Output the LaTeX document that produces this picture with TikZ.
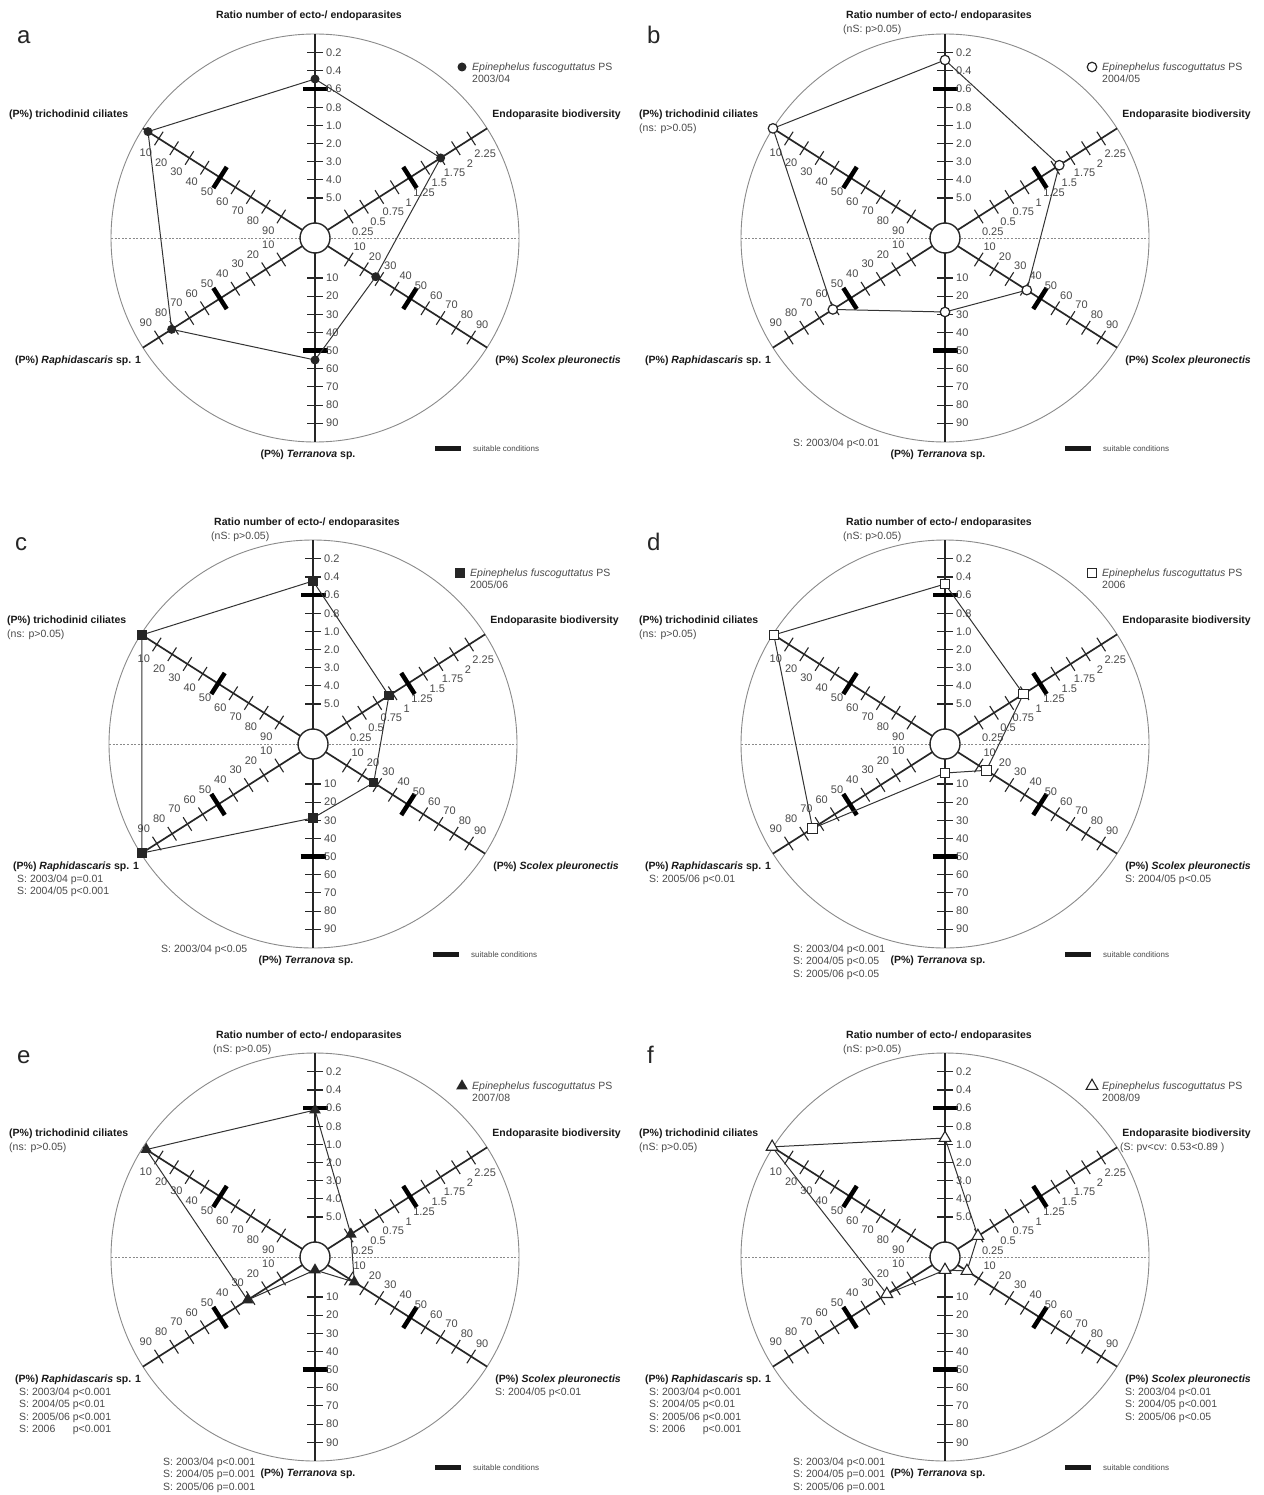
\documentclass[tikz,border=0pt]{standalone}
\usepackage{fontspec}
\setmainfont{Liberation Sans}
\usetikzlibrary{shapes.geometric}
\definecolor{labgray}{HTML}{4A4A4A}
\definecolor{circgray}{HTML}{8A8A8A}
\definecolor{axisblk}{HTML}{262626}
\tikzset{
 circ/.style={draw=circgray, line width=0.9pt},
 midline/.style={draw=circgray, line width=0.8pt, dash pattern=on 2pt off 1.6pt},
 spoke/.style={draw=axisblk, line width=1.7pt},
 tickmark/.style={draw=axisblk, line width=1.1pt},
 barmark/.style={draw=black, line width=4.5pt},
 hub/.style={draw=axisblk, line width=1.4pt, fill=white},
 poly/.style={draw=black!80, line width=1pt, line join=round},
 tlab/.style={font=\fontsize{11}{12}\selectfont, text=labgray, inner sep=0pt},
 axlab/.style={font=\fontsize{10.5}{12}\selectfont\bfseries, text=black!90, inner sep=0pt},
 slab/.style={font=\fontsize{10.5}{12}\selectfont, text=labgray, inner sep=0pt, anchor=base west},
 leglab/.style={font=\fontsize{10.5}{12}\selectfont, text=labgray, inner sep=0pt, anchor=base west},
 tinylab/.style={font=\fontsize{8}{9}\selectfont, text=labgray, inner sep=0pt},
 panelletter/.style={font=\fontsize{24}{26}\selectfont, text=black!85, inner sep=0pt},
 suitbar/.style={fill=black!90, inner sep=0pt, minimum width=26pt, minimum height=5pt},
 mkdot/.style={circle, fill=black!85, inner sep=0pt, minimum size=9pt},
 mkring/.style={circle, draw=black!85, line width=1.2pt, fill=white, inner sep=0pt, minimum size=9.5pt},
 mksq/.style={rectangle, fill=black!85, inner sep=0pt, minimum size=9.5pt},
 mkbox/.style={rectangle, draw=black!85, line width=1.1pt, fill=white, inner sep=0pt, minimum size=9.5pt},
 mktri/.style={regular polygon, regular polygon sides=3, fill=black!85, inner sep=0pt, minimum size=13.5pt},
 mkopentri/.style={regular polygon, regular polygon sides=3, draw=black!85, line width=1.1pt, fill=white, inner sep=0pt, minimum size=13.5pt},
}
% #1 name, #2 centre "x,y", #3 panel letter
\newcommand{\radarbase}[3]{%
\begin{scope}[shift={(#2)}]
 \draw[circ] (0,0) circle[radius=204pt];
 \draw[midline] (-204,0) -- (204,0);
 \draw[spoke] (0,-204) -- (0,204);
 \foreach \a in {-32.5,32.5,147.5,212.5} \draw[spoke] (\a:15) -- (\a:204);
 \foreach \a in {-90,90,-32.5,32.5,147.5,212.5}
  \foreach \k in {0,...,8}
   \draw[tickmark] (\a:{40+\k*18.15}) ++(\a+90:8) -- ++(\a-90:16);
 \foreach \a/\k in {-90/6,90/4,-32.5/4,32.5/4,147.5/4,212.5/4}
  \draw[barmark] (\a:{40+\k*18.15}) ++(\a+90:12.5) -- ++(\a-90:25);
 \draw[hub] (0,0) circle[radius=15pt];
 \foreach \k/\l in {0/5.0,1/4.0,2/3.0,3/2.0,4/1.0,5/0.8,6/0.6,7/0.4,8/0.2}
  \node[tlab, anchor=west] (#1-rl\k) at (11,{-(40+\k*18.15)}) {\l};
 \foreach \k/\l in {0/10,1/20,2/30,3/40,4/50,5/60,6/70,7/80,8/90}
  \node[tlab, anchor=west] (#1-tl\k) at (11,{40+\k*18.15}) {\l};
 \foreach \k/\l in {0/0.25,1/0.5,2/0.75,3/1,4/1.25,5/1.5,6/1.75,7/2,8/2.25}
  \path (-32.5:{40+\k*18.15}) ++(14,15) node[tlab] (#1-el\k) {\l};
 \foreach \k/\l in {0/10,1/20,2/30,3/40,4/50,5/60,6/70,7/80,8/90}
  \path (32.5:{40+\k*18.15}) ++(11,-13) node[tlab] (#1-sl\k) {\l};
 \foreach \k/\l in {0/10,1/20,2/30,3/40,4/50,5/60,6/70,7/80,8/90}
  \path (147.5:{40+\k*18.15}) ++(-13,-15) node[tlab] (#1-pl\k) {\l};
 \foreach \k/\l in {0/90,1/80,2/70,3/60,4/50,5/40,6/30,7/20,8/10}
  \path (212.5:{40+\k*18.15}) ++(-13,14) node[tlab] (#1-cl\k) {\l};
 \node[axlab, anchor=base] (#1-title) at (-6,-219) {Ratio number of ecto-/ endoparasites};
 \node[axlab, anchor=base west] (#1-tri) at (-306,-120.5) {(P\%) trichodinid ciliates};
 \node[axlab, anchor=base east] (#1-endo) at (306,-120.5) {Endoparasite biodiversity};
 \node[axlab, anchor=base west] (#1-rap) at (-300,125.5) {(P\%) \textit{Raphidascaris} sp. 1};
 \node[axlab, anchor=base east] (#1-sco) at (306,125.5) {(P\%) \textit{Scolex pleuronectis}};
 \node[axlab, anchor=base] (#1-ter) at (-7,219.5) {(P\%) \textit{Terranova} sp.};
 \node[panelletter, anchor=base west] (#1-letter) at (-298,-194) {#3};
 \node[suitbar] (#1-sbar) at (133,210) {};
 \node[tinylab, anchor=west] (#1-suit) at (158,210.5) {suitable conditions};
 \node[leglab] (#1-sp) at (157,-167.5) {\textit{Epinephelus fuscoguttatus} PS};
\end{scope}}
% #1 name, #2 centre, #3 ratio, #4 endo, #5 scolex, #6 terranova, #7 raphid, #8 tricho, #9 marker
\newcommand{\radardata}[9]{%
\begin{scope}[shift={(#2)}]
 \coordinate (#1-p1) at (-90:#3);
 \coordinate (#1-p2) at (-32.5:#4);
 \coordinate (#1-p3) at (32.5:#5);
 \coordinate (#1-p4) at (90:#6);
 \coordinate (#1-p5) at (147.5:#7);
 \coordinate (#1-p6) at (212.5:#8);
 \draw[poly] (#1-p1) -- (#1-p2) -- (#1-p3) -- (#1-p4) -- (#1-p5) -- (#1-p6) -- cycle;
 \foreach \j in {1,...,6} \node[#9] (#1-m\j) at (#1-p\j) {};
 \node[#9] (#1-legmk) at (147,-171) {};
\end{scope}}
\begin{document}
\begin{tikzpicture}[x=1pt,y=-1pt]
\useasboundingbox (0,0) rectangle (1263,1495);
\fill[white] (0,0) rectangle (1263,1495);
% ---------- a ----------
\radarbase{a}{315,238}{a}
\radardata{a}{315,238}{159}{149}{72}{122}{170}{198}{mkdot}
\begin{scope}[shift={(315,238)}]
 \node[leglab] (a-yr) at (157,-155.5) {2003/04};
\end{scope}
% ---------- b ----------
\radarbase{b}{945,238}{b}
\radardata{b}{945,238}{178}{135.5}{97}{74}{133}{204}{mkring}
\begin{scope}[shift={(945,238)}]
 \node[leglab] (b-yr) at (157,-155.5) {2004/05};
 \node[slab] (b-tsub) at (-102,-205) {(nS: p>0.05)};
 \node[slab] (b-csub) at (-306,-106.5) {(ns: p>0.05)};
 \node[slab] (b-bot1) at (-152,208.5) {S: 2003/04 p<0.01};
\end{scope}
% ---------- c ----------
\radarbase{c}{313,744}{c}
\radardata{c}{313,744}{163}{90}{72}{74}{203}{203}{mksq}
\begin{scope}[shift={(313,744)}]
 \node[leglab] (c-yr) at (157,-155.5) {2005/06};
 \node[slab] (c-tsub) at (-102,-205) {(nS: p>0.05)};
 \node[slab] (c-csub) at (-306,-106.5) {(ns: p>0.05)};
 \node[slab] (c-r1) at (-296,138.5) {S: 2003/04 p=0.01};
 \node[slab] (c-r2) at (-296,150.8) {S: 2004/05 p<0.001};
 \node[slab] (c-bot1) at (-152,208.5) {S: 2003/04 p<0.05};
\end{scope}
% ---------- d ----------
\radarbase{d}{945,744}{d}
\radardata{d}{945,744}{160}{93}{49}{29}{157}{203}{mkbox}
\begin{scope}[shift={(945,744)}]
 \node[leglab] (d-yr) at (157,-155.5) {2006};
 \node[slab] (d-tsub) at (-102,-205) {(nS: p>0.05)};
 \node[slab] (d-csub) at (-306,-106.5) {(ns: p>0.05)};
 \node[slab] (d-r1) at (-296,138.5) {S: 2005/06 p<0.01};
 \node[slab] (d-s1) at (180,138.5) {S: 2004/05 p<0.05};
 \node[slab] (d-bot1) at (-152,208.5) {S: 2003/04 p<0.001};
 \node[slab] (d-bot2) at (-152,220.8) {S: 2004/05 p<0.05};
 \node[slab] (d-bot3) at (-152,233.1) {S: 2005/06 p<0.05};
\end{scope}
% ---------- e ----------
\radarbase{e}{315,1257}{e}
\radardata{e}{315,1257}{147}{42.5}{46.6}{13}{80}{200}{mktri}
\begin{scope}[shift={(315,1257)}]
 \node[leglab] (e-yr) at (157,-155.5) {2007/08};
 \node[slab] (e-tsub) at (-102,-205) {(nS: p>0.05)};
 \node[slab] (e-csub) at (-306,-106.5) {(ns: p>0.05)};
 \node[slab] (e-r1) at (-296,138.5) {S: 2003/04 p<0.001};
 \node[slab] (e-r2) at (-296,150.8) {S: 2004/05 p<0.01};
 \node[slab] (e-r3) at (-296,163.1) {S: 2005/06 p<0.001};
 \node[slab] (e-r4) at (-296,175.4) {S: 2006\phantom{/04}\ p<0.001};
 \node[slab] (e-s1) at (180,138.5) {S: 2004/05 p<0.01};
 \node[slab] (e-bot1) at (-152,208.5) {S: 2003/04 p<0.001};
 \node[slab] (e-bot2) at (-152,220.8) {S: 2004/05 p=0.001};
 \node[slab] (e-bot3) at (-152,233.1) {S: 2005/06 p=0.001};
\end{scope}
% ---------- f ----------
\radarbase{f}{945,1257}{f}
\radardata{f}{945,1257}{119}{39}{26}{13}{69}{205}{mkopentri}
\begin{scope}[shift={(945,1257)}]
 \node[leglab] (f-yr) at (157,-155.5) {2008/09};
 \node[slab] (f-tsub) at (-102,-205) {(nS: p>0.05)};
 \node[slab] (f-csub) at (-306,-106.5) {(nS: p>0.05)};
 \node[slab] (f-esub) at (175,-106.5) {(S: pv<cv: 0.53<0.89 )};
 \node[slab] (f-r1) at (-296,138.5) {S: 2003/04 p<0.001};
 \node[slab] (f-r2) at (-296,150.8) {S: 2004/05 p<0.01};
 \node[slab] (f-r3) at (-296,163.1) {S: 2005/06 p<0.001};
 \node[slab] (f-r4) at (-296,175.4) {S: 2006\phantom{/04}\ p<0.001};
 \node[slab] (f-s1) at (180,138.5) {S: 2003/04 p<0.01};
 \node[slab] (f-s2) at (180,150.8) {S: 2004/05 p<0.001};
 \node[slab] (f-s3) at (180,163.1) {S: 2005/06 p<0.05};
 \node[slab] (f-bot1) at (-152,208.5) {S: 2003/04 p<0.001};
 \node[slab] (f-bot2) at (-152,220.8) {S: 2004/05 p=0.001};
 \node[slab] (f-bot3) at (-152,233.1) {S: 2005/06 p=0.001};
\end{scope}
\end{tikzpicture}
\end{document}
